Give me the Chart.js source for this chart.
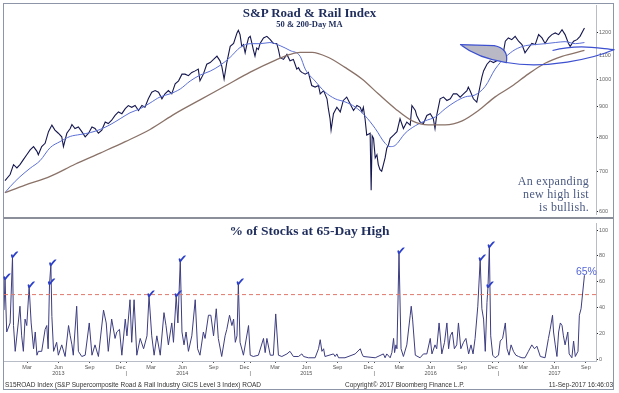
<!DOCTYPE html>
<html>
<head>
<meta charset="utf-8">
<script src="https://cdn.jsdelivr.net/npm/chart.js@4.4.1/dist/chart.umd.min.js"></script>
<style>
  body { margin: 0; background: #fff; width: 619px; height: 393px; overflow: hidden; position: relative; }
  #frame { position: absolute; left: 3px; top: 3px; width: 611px; height: 387px; border: 1px solid #8d95a8; box-sizing: border-box; }
  #sep { position: absolute; left: 4px; top: 217px; width: 609px; height: 2px; background: #8a8f9a; }
  canvas { position: absolute; left: 0; }
  #topChart { top: 0; }
  #botChart { top: 219px; }
  .ttl { position: absolute; left: 0; width: 619px; text-align: center; white-space: nowrap;
         font-family: 'Liberation Serif', serif; font-weight: bold; color: #1f2d5c; }
  .note { position: absolute; right: 30px; top: 175px; text-align: right; line-height: 13px;
          font-family: 'Liberation Serif', serif; font-size: 12px; color: #4b5a82; letter-spacing: 0.3px; }
  .foot { position: absolute; top: 381px; font-family: 'Liberation Sans', sans-serif; font-size: 6.5px;
          line-height: 7px; color: #333; white-space: nowrap; }
</style>
</head>
<body>
<div id="frame"></div>
<canvas id="topChart" width="619" height="219"></canvas>
<canvas id="botChart" width="619" height="174"></canvas>
<div id="sep"></div>
<div class="ttl" style="top:6px;font-size:13px;line-height:13px">S&amp;P Road &amp; Rail Index</div>
<div class="ttl" style="top:20px;font-size:8.5px;line-height:9px">50 &amp; 200-Day MA</div>
<div class="ttl" style="top:224px;font-size:13.5px;line-height:14px">% of Stocks at 65-Day High</div>
<div class="note">An expanding<br>new high list<br>is bullish.</div>
<div class="foot" style="left:5px">S15ROAD Index (S&amp;P Supercomposite Road &amp; Rail Industry GICS Level 3 Index) ROAD</div>
<div class="foot" style="left:345px">Copyright© 2017 Bloomberg Finance L.P.</div>
<div class="foot" style="right:6px">11-Sep-2017 16:46:03</div>

<script>
// x values are days since 1 Jan 2013
var priceDays = [8,23,33,43,52,62,72,82,92,102,106,116,126,136,146,155,165,175,180,190,200,205,214,224,234,244,254,264,273,283,293,303,312,322,332,342,352,362,371,381,391,401,411,420,430,440,450,460,470,479,489,499,509,519,529,538,548,558,568,577,582,592,602,612,622,632,641,646,653,661,671,681,691,695,700,705,710,715,720,725,730,735,739,744,749,754,759,769,779,789,798,808,813,818,828,838,847,857,862,867,872,877,882,892,901,911,921,931,936,946,956,960,965,968,975,985,995,1004,1014,1024,1034,1044,1054,1059,1063,1068,1073,1083,1086,1089,1093,1098,1103,1107,1112,1117,1122,1127,1132,1137,1142,1152,1162,1171,1181,1191,1201,1206,1216,1220,1230,1240,1250,1260,1269,1274,1279,1289,1299,1309,1319,1328,1338,1348,1358,1368,1372,1377,1387,1397,1407,1412,1417,1427,1436,1446,1456,1466,1476,1481,1490,1500,1510,1520,1530,1539,1549,1559,1569,1579,1589,1598,1608,1618,1628,1638,1648,1657,1667,1672,1682,1692,1701,1714];
var priceVals = [677,693,720,711,720,734,748,762,772,758,748,772,782,818,839,823,813,802,772,813,828,841,828,833,818,802,813,833,828,813,823,849,844,855,871,883,877,894,905,899,905,888,905,899,929,953,959,953,929,947,959,947,984,996,1022,1022,1016,1029,1035,1042,996,1022,1062,1069,1082,1096,1076,1055,1003,1069,1138,1151,1199,1211,1191,1138,1146,1110,1146,1176,1183,1151,1124,1096,1131,1124,1151,1176,1183,1168,1151,1151,1124,1089,1082,1103,1076,1082,1062,1042,1048,1035,1029,1022,1029,978,972,978,947,959,929,894,860,823,877,899,883,923,935,911,888,905,899,883,899,860,807,813,652,805,797,739,748,720,706,702,720,739,767,777,797,807,818,860,828,849,839,905,888,871,849,844,871,877,860,828,871,929,935,923,929,947,947,935,947,959,972,959,929,917,978,1010,1035,1062,1076,1069,1076,1082,1117,1161,1176,1168,1183,1161,1146,1110,1131,1151,1146,1191,1176,1151,1176,1191,1199,1191,1214,1191,1151,1138,1161,1168,1183,1222];

var ma50Days = [8,23,38,52,82,111,141,170,200,229,259,288,317,347,376,406,435,465,494,524,553,582,612,641,671,700,730,759,788,818,847,877,892,921,950,980,1009,1039,1068,1098,1127,1142,1156,1186,1216,1245,1275,1304,1333,1363,1392,1422,1451,1481,1510,1540,1569,1599,1628,1657,1687,1714];
var ma50Vals = [646,661,675,687,710,731,769,787,803,809,815,825,840,860,880,894,914,936,947,965,995,1018,1034,1057,1091,1133,1150,1150,1155,1141,1120,1095,1042,995,954,929,918,900,870,828,782,772,775,813,837,853,866,894,918,936,943,975,1042,1091,1124,1141,1146,1150,1155,1159,1150,1155];

var ma200Days = [8,67,141,214,288,362,435,509,582,656,730,803,847,877,912,959,1009,1059,1107,1157,1207,1254,1304,1354,1401,1451,1501,1548,1598,1648,1714];
var ma200Vals = [646,665,688,721,753,787,825,877,925,976,1030,1078,1103,1112,1112,1091,1049,1003,947,894,853,840,840,853,887,936,976,1022,1066,1095,1120];

var pctDays = [5,8,13,23,30,33,38,47,52,57,62,67,72,79,85,92,97,102,106,116,126,131,135,139,143,146,151,160,165,175,185,195,200,205,209,219,224,234,244,256,264,273,283,298,306,312,322,332,337,345,352,362,367,376,381,388,396,406,416,426,432,440,447,455,465,476,482,489,499,504,512,517,524,529,535,541,548,558,568,575,582,592,597,607,614,622,630,636,646,656,661,669,676,681,686,691,695,700,710,725,730,739,754,769,774,779,789,798,805,813,823,838,847,857,872,877,882,887,901,921,931,936,941,946,950,975,980,985,990,1009,1039,1054,1059,1063,1098,1122,1127,1132,1142,1147,1152,1155,1159,1162,1168,1174,1181,1191,1201,1204,1208,1216,1230,1240,1250,1260,1265,1274,1279,1286,1294,1302,1309,1314,1319,1325,1331,1338,1343,1350,1358,1365,1373,1380,1386,1392,1400,1407,1412,1417,1422,1427,1430,1434,1438,1444,1451,1461,1466,1473,1481,1486,1492,1498,1505,1512,1520,1530,1539,1549,1559,1567,1574,1584,1598,1608,1613,1620,1623,1628,1633,1638,1643,1648,1652,1657,1665,1669,1677,1682,1687,1695,1699,1704,1714];
var pctVals = [38,62,21,28,79,26,6,28,41,18,6,31,26,56,28,8,21,3,6,6,23,26,8,58,73,33,6,13,3,11,2,26,18,11,3,41,6,2,3,28,3,11,2,38,28,6,31,16,21,23,3,31,18,46,13,46,3,16,8,18,49,18,3,18,3,36,26,11,28,13,49,28,76,21,11,21,6,18,46,8,3,21,16,34,34,18,39,16,2,18,23,34,26,31,13,18,58,13,3,26,3,2,3,16,5,16,3,3,35,3,2,4,6,2,2,3,4,2,1,1,8,15,6,8,2,4,2,4,1,1,4,8,4,2,1,4,1,4,1,5,16,5,11,8,82,8,2,11,34,41,31,3,1,4,4,16,4,11,8,28,4,13,28,8,18,21,8,11,28,8,13,16,4,11,4,16,41,77,39,31,6,44,56,87,18,3,1,3,14,16,28,8,3,11,6,3,2,1,1,6,11,8,10,2,1,16,23,34,21,11,2,21,28,26,18,11,21,4,1,14,2,6,34,39,65];

// peaks marked with a check
var checkDays = [8,30,79,139,143,432,512,524,695,1168,1407,1430,1434];
var checkVals = [62,79,56,58,73,49,49,76,58,82,77,56,87];

var priceTicks = [600,700,800,900,1000,1100,1200];
var pctTicks = [0,20,40,60,80,100];
var threshold = 50;

// hand-drawn highlight on the breakout, [day, price]
var swooshFill = [[1348,1146],[1448,1141],[1492,1128],[1484,1069],[1401,1086]];
var swooshOuter = [[1484,1069],[1600,1040],[1740,1085],[1802,1124]];
var swooshInner = [[1620,1120],[1700,1150],[1760,1128],[1802,1124]];

var xMin = 5, xMax = 1748;
var DAY0 = Date.UTC(2013, 0, 1);
function dayOf(y, m, d) { return Math.round((Date.UTC(y, m, d) - DAY0) / 864e5); }

var xTicks = [];
for (var yr = 2013; yr <= 2017; yr++) {
  if (yr > 2013) xTicks.push({ value: dayOf(yr, 0, 1), label: ['', '|'] });
  [[2, 'Mar'], [5, 'Jun'], [8, 'Sep'], [11, 'Dec']].forEach(function (mm) {
    var d = dayOf(yr, mm[0], 15);
    if (d > xMin && d < xMax) xTicks.push({ value: d, label: mm[0] === 5 ? [mm[1], String(yr)] : mm[1] });
  });
}

function pts(xs, ys) { return xs.map(function (d, i) { return { x: d, y: ys[i] }; }); }

var tickFont = { family: 'Liberation Sans', size: 5.5 };

var swooshPlugin = {
  id: 'swoosh',
  afterDatasetsDraw: function (chart) {
    var ctx = chart.ctx, xs = chart.scales.x, ys = chart.scales.y;
    var P = function (p) { return [xs.getPixelForValue(p[0]), ys.getPixelForValue(p[1])]; };
    var a = P(swooshFill[0]), b = P(swooshFill[1]), bc = P(swooshFill[2]), c = P(swooshFill[3]), lc = P(swooshFill[4]);
    ctx.save();
    ctx.beginPath();
    ctx.moveTo(a[0], a[1]);
    ctx.lineTo(b[0], b[1]);
    ctx.quadraticCurveTo(bc[0], bc[1], c[0], c[1]);
    ctx.quadraticCurveTo(lc[0], lc[1], a[0], a[1]);
    ctx.fillStyle = '#b9b9c6';
    ctx.fill();
    ctx.strokeStyle = '#3c50d0';
    ctx.lineWidth = 1.2;
    ctx.stroke();
    [swooshOuter, swooshInner].forEach(function (curve) {
      var s0 = P(curve[0]), s1 = P(curve[1]), s2 = P(curve[2]), s3 = P(curve[3]);
      ctx.beginPath();
      ctx.moveTo(s0[0], s0[1]);
      ctx.bezierCurveTo(s1[0], s1[1], s2[0], s2[1], s3[0], s3[1]);
      ctx.stroke();
    });
    ctx.restore();
  }
};

var checkPlugin = {
  id: 'checks',
  afterDatasetsDraw: function (chart) {
    var ctx = chart.ctx, xs = chart.scales.x, ys = chart.scales.y;
    ctx.save();
    ctx.fillStyle = '#2b3fc8';
    ctx.font = 'bold 12px "DejaVu Sans"';
    ctx.textBaseline = 'alphabetic';
    checkDays.forEach(function (d, i) {
      ctx.fillText('\u2714', xs.getPixelForValue(d) - 3, ys.getPixelForValue(checkVals[i]) + 2);
    });
    var n = pctDays.length - 1;
    ctx.fillStyle = '#5567d8';
    ctx.font = '10.5px "Liberation Sans"';
    ctx.textAlign = 'center';
    ctx.fillText(pctVals[n] + '%', xs.getPixelForValue(pctDays[n]) + 2, ys.getPixelForValue(pctVals[n]));
    ctx.restore();
  }
};

new Chart(document.getElementById('topChart'), {
  type: 'line',
  data: {
    datasets: [
      { data: pts(ma200Days, ma200Vals), borderColor: '#8a7268', borderWidth: 1.3, cubicInterpolationMode: 'monotone' },
      { data: pts(ma50Days, ma50Vals), borderColor: '#5b6fd6', borderWidth: 1, cubicInterpolationMode: 'monotone' },
      { data: pts(priceDays, priceVals), borderColor: '#15174f', borderWidth: 1.1 }
    ]
  },
  options: {
    responsive: false,
    animation: false,
    layout: { padding: { left: 4, right: 5, top: 5, bottom: 2 } },
    elements: { point: { radius: 0 } },
    plugins: { legend: { display: false }, tooltip: { enabled: false } },
    scales: {
      x: { type: 'linear', min: xMin, max: xMax, display: false },
      y: {
        type: 'logarithmic', position: 'right', min: 593.1, max: 1335.7, bounds: 'data',
        afterBuildTicks: function (s) { s.ticks = priceTicks.map(function (v) { return { value: v }; }); },
        afterFit: function (s) { s.width = 18; },
        grid: { drawOnChartArea: false, tickLength: 2, color: '#222' },
        border: { color: '#b8bcc6' },
        ticks: { font: tickFont, color: '#666', padding: 1, callback: function (v) { return String(v); } }
      }
    }
  },
  plugins: [swooshPlugin]
});

new Chart(document.getElementById('botChart'), {
  type: 'line',
  data: {
    datasets: [
      { data: [{ x: xMin, y: threshold }, { x: xMax, y: threshold }], borderColor: '#e0786a', borderWidth: 1, borderDash: [4, 3] },
      { data: pts(pctDays, pctVals), borderColor: '#3d3d80', borderWidth: 1 }
    ]
  },
  options: {
    responsive: false,
    animation: false,
    layout: { padding: { left: 4, right: 5, top: 2, bottom: 12 } },
    elements: { point: { radius: 0 } },
    plugins: { legend: { display: false }, tooltip: { enabled: false } },
    scales: {
      x: {
        type: 'linear', min: xMin, max: xMax, bounds: 'data',
        afterBuildTicks: function (s) { s.ticks = xTicks.map(function (t) { return { value: t.value }; }); },
        afterFit: function (s) { s.height = 20; },
        grid: { drawOnChartArea: false, tickLength: 2, color: '#555' },
        border: { color: '#b8bcc6' },
        ticks: {
          font: tickFont, color: '#555', padding: 1, autoSkip: false, maxRotation: 0,
          callback: function (v) {
            var t = xTicks.find(function (k) { return k.value === v; });
            return t ? t.label : '';
          }
        }
      },
      y: {
        type: 'linear', position: 'right', min: -1.5, max: 105.3, bounds: 'data',
        afterBuildTicks: function (s) { s.ticks = pctTicks.map(function (v) { return { value: v }; }); },
        afterFit: function (s) { s.width = 18; },
        grid: { drawOnChartArea: false, tickLength: 2, color: '#222' },
        border: { color: '#b8bcc6' },
        ticks: { font: tickFont, color: '#666', padding: 1 }
      }
    }
  },
  plugins: [checkPlugin]
});
</script>
</body>
</html>
